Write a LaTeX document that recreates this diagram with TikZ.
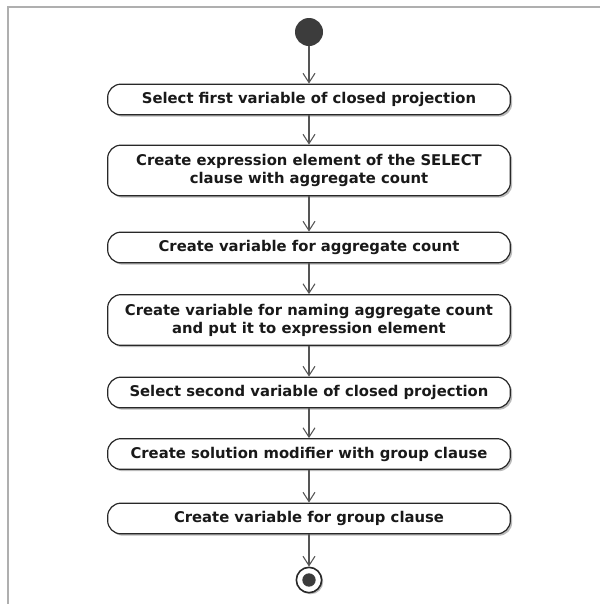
\documentclass[tikz,border=0pt]{standalone}
\usepackage{fontspec}
\setmainfont{DejaVu Sans}
\usetikzlibrary{arrows.meta,shadows,positioning}
\definecolor{frame_gray}{RGB}{175,175,175}
\definecolor{line_gray}{RGB}{85,85,85}
\definecolor{dot_dark}{RGB}{60,60,60}
\definecolor{edge_dark}{RGB}{40,40,40}

\begin{document}
\begin{tikzpicture}[
    x=0.75pt, y=-0.75pt,
    action/.style={rectangle, draw=edge_dark, line width=0.9pt, fill=white, rounded corners=10pt,
        minimum width=302pt, minimum height=23pt, align=center,
        font=\fontsize{11.1}{13.5}\selectfont\bfseries, text=black!90,
        drop shadow={shadow xshift=1.4pt, shadow yshift=-1.4pt, fill=black!45, opacity=0.6}},
    tall/.style={minimum height=38pt},
    flow/.style={-{Straight Barb[length=7pt, width=9pt]}, line_gray, line width=0.8pt},
]

% Frame and picture size
\useasboundingbox (0,0) rectangle (600,604);
\draw[frame_gray, line width=1.5pt] (7.5,604) -- (7.5,6.5) -- (600,6.5);

% Initial node
\node[circle, fill=dot_dark, minimum size=21pt, inner sep=0pt] (start) at (309,32) {};

% Actions
\node[action] (a1) at (309,99.5) {Select first variable of closed projection};
\node[action, tall] (a2) at (309,170.5) {Create expression element of the SELECT\\clause with aggregate count};
\node[action] (a3) at (309,247.5) {Create variable for aggregate count};
\node[action, tall] (a4) at (309,320) {Create variable for naming aggregate count\\and put it to expression element};
\node[action] (a5) at (309,392.5) {Select second variable of closed projection};
\node[action] (a6) at (309,454) {Create solution modifier with group clause};
\node[action] (a7) at (309,518.5) {Create variable for group clause};

% Final node
\node[circle, draw=edge_dark, line width=1.2pt, fill=white, minimum size=19pt, inner sep=0pt,
    drop shadow={shadow xshift=1.2pt, shadow yshift=-1.2pt, fill=black!45, opacity=0.6}] (stop) at (309,580) {};
\node[circle, fill=dot_dark, minimum size=10pt, inner sep=0pt] (stopdot) at (stop) {};

% Control flow
\draw[flow] (start) -- (a1);
\draw[flow] (a1) -- (a2);
\draw[flow] (a2) -- (a3);
\draw[flow] (a3) -- (a4);
\draw[flow] (a4) -- (a5);
\draw[flow] (a5) -- (a6);
\draw[flow] (a6) -- (a7);
\draw[flow] (a7) -- (stop);

\end{tikzpicture}
\end{document}
